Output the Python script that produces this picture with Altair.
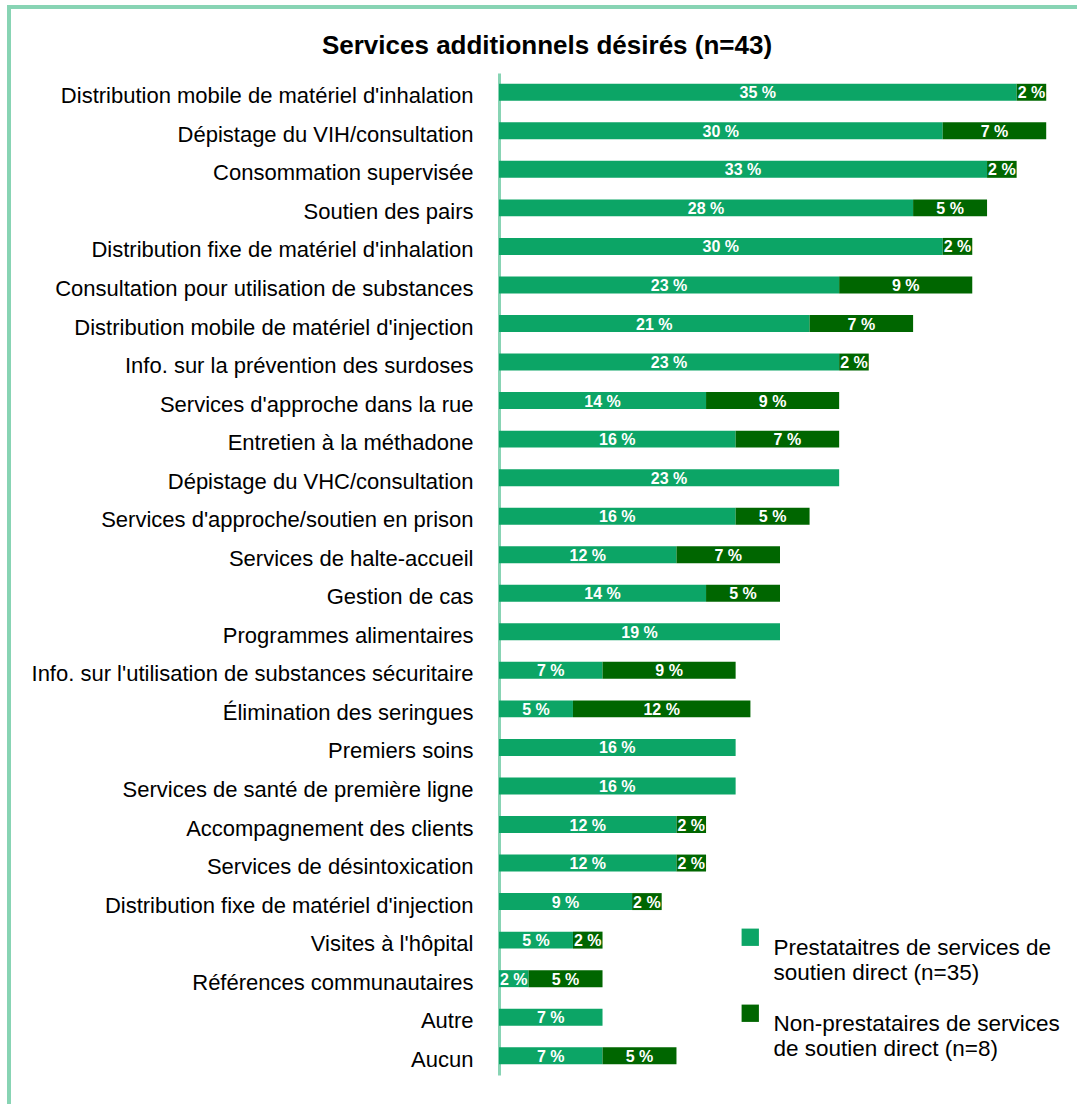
import altair as alt
import pandas as pd

categories = [
    "Distribution mobile de matériel d'inhalation",
    "Dépistage du VIH/consultation",
    "Consommation supervisée",
    "Soutien des pairs",
    "Distribution fixe de matériel d'inhalation",
    "Consultation pour utilisation de substances",
    "Distribution mobile de matériel d'injection",
    "Info. sur la prévention des surdoses",
    "Services d'approche dans la rue",
    "Entretien à la méthadone",
    "Dépistage du VHC/consultation",
    "Services d'approche/soutien en prison",
    "Services de halte-accueil",
    "Gestion de cas",
    "Programmes alimentaires",
    "Info. sur l'utilisation de substances sécuritaire",
    "Élimination des seringues",
    "Premiers soins",
    "Services de santé de première ligne",
    "Accompagnement des clients",
    "Services de désintoxication",
    "Distribution fixe de matériel d'injection",
    "Visites à l'hôpital",
    "Références communautaires",
    "Autre",
    "Aucun",
]
providers = [35, 30, 33, 28, 30, 23, 21, 23, 14, 16, 23, 16, 12, 14, 19, 7, 5, 16, 16, 12, 12, 9, 5, 2, 7, 7]
non_providers = [2, 7, 2, 5, 2, 9, 7, 2, 9, 7, 0, 5, 7, 5, 0, 9, 12, 0, 0, 2, 2, 2, 2, 5, 0, 5]
series = [
    "Prestataitres de services de soutien direct (n=35)",
    "Non-prestataires de services de soutien direct (n=8)",
]
legend_lines = [
    ["Prestataitres de services de", "soutien direct (n=35)"],
    ["Non-prestataires de services", "de soutien direct (n=8)"],
]
colors = ["#0ca566", "#006600"]

rows = []
for i, c in enumerate(categories):
    start = 0
    for k, (s, vals) in enumerate(zip(series, [providers, non_providers])):
        v = vals[i]
        if v > 0:
            rows.append({"cat": c, "series": s, "start": start, "end": start + v,
                         "mid": start + v / 2, "label": f"{v} %", "order": k})
        start += v
df = pd.DataFrame(rows)

W, H = 562, 1002

label_expr = ("datum.label == '" + series[0] + "' ? ['" + "', '".join(legend_lines[0]) +
              "'] : ['" + "', '".join(legend_lines[1]) + "']")

y_enc = alt.Y("cat:N", sort=categories, title=None,
              scale=alt.Scale(paddingInner=0.56, paddingOuter=0.28),
              axis=alt.Axis(labelFont="Liberation Sans", labelFontSize=22, labelColor="#000000",
                            ticks=False, labelPadding=26, labelLimit=490,
                            domainColor="#88d4b4", domainWidth=3, labelBaseline="middle",
                            labelOffset=4))

bars = alt.Chart(df).mark_bar().encode(
    x=alt.X("start:Q", scale=alt.Scale(domain=[0, 38]), axis=None),
    x2="end:Q",
    y=y_enc,
    color=alt.Color("series:N", scale=alt.Scale(domain=series, range=colors),
                    legend=alt.Legend(title=None, orient="none", legendX=240, legendY=853,
                                      symbolType="square", symbolSize=300, symbolStrokeWidth=0,
                                      labelFont="Liberation Sans", labelFontSize=22.5,
                                      labelColor="#000000", labelLimit=400, labelOffset=12,
                                      rowPadding=17, labelBaseline="top",
                                      labelExpr=label_expr)),
    order="order:Q",
)

texts = alt.Chart(df).mark_text(color="white", font="Liberation Sans", fontWeight="bold",
                                fontSize=16, baseline="middle", dy=1).encode(
    x=alt.X("mid:Q", scale=alt.Scale(domain=[0, 38])),
    y=alt.Y("cat:N", sort=categories),
    text="label:N",
)

border_df = pd.DataFrame({"k": [0]})
left_border = alt.Chart(border_df).mark_rule(color="#88d4b4", strokeWidth=4).encode(
    x=alt.value(-490), y=alt.value(-66), y2=alt.value(H + 40))
top_border = alt.Chart(border_df).mark_rule(color="#88d4b4", strokeWidth=4).encode(
    x=alt.value(-492), x2=alt.value(580), y=alt.value(-66))

chart = alt.layer(bars, texts, left_border, top_border).properties(
    width=W, height=H,
    title=alt.TitleParams("Services additionnels désirés (n=43)", font="Liberation Sans",
                          fontSize=26, fontWeight="bold", color="#000000",
                          anchor="middle", dx=-233, offset=0, dy=54),
    padding={"left": 499, "top": 73, "right": 16, "bottom": 29},
    autosize=alt.AutoSizeParams(type="none"),
).configure_view(stroke=None)

chart.save("out.html", embed_options={"renderer": "svg", "actions": False})
